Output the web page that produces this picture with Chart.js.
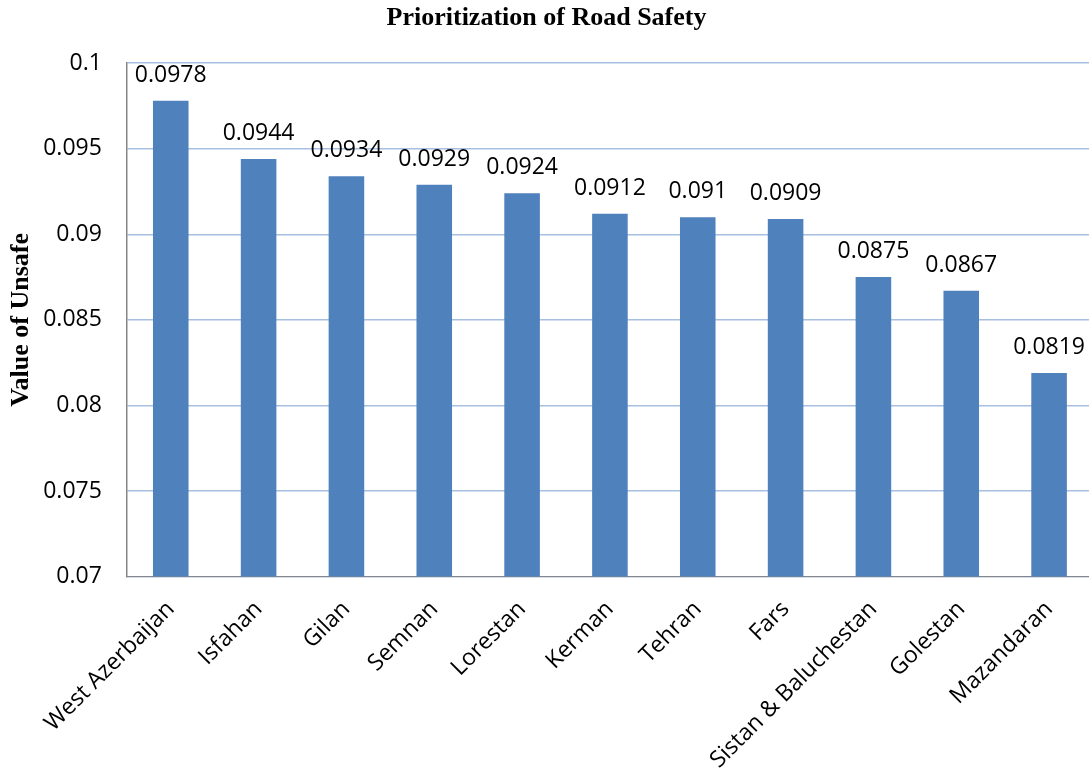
<!DOCTYPE html>
<html>
<head>
<meta charset="utf-8">
<script src="https://cdn.jsdelivr.net/npm/chart.js@4/dist/chart.umd.min.js"></script>
<style>
  html, body { margin: 0; padding: 0; background: #ffffff; overflow: hidden; }
  #wrap { width: 1093px; height: 773px; }
</style>
</head>
<body>
<div id="wrap"><canvas id="grafico"></canvas></div>
<script>
var provincias = ['West Azerbaijan', 'Isfahan', 'Gilan', 'Semnan', 'Lorestan', 'Kerman',
    'Tehran', 'Fars', 'Sistan & Baluchestan', 'Golestan', 'Mazandaran'];
var valores = [0.0978, 0.0944, 0.0934, 0.0929, 0.0924, 0.0912, 0.091, 0.0909, 0.0875, 0.0867, 0.0819];
var ejeY = [0.07, 0.075, 0.08, 0.085, 0.09, 0.095, 0.1];

var fuente = '"Open Sans", sans-serif';
var fuenteSerif = '"Liberation Serif", "Times New Roman", serif';

// etiquetas de valor encima de cada barra
var etiquetasBarras = {
    id: 'etiquetasBarras',
    afterDatasetsDraw(chart) {
        var ctx = chart.ctx;
        var meta = chart.getDatasetMeta(0);
        ctx.save();
        ctx.font = '23px ' + fuente;
        ctx.fillStyle = '#000000';
        ctx.textAlign = 'center';
        ctx.textBaseline = 'bottom';
        meta.data.forEach(function (bar, i) {
            ctx.fillText(String(valores[i]), bar.x, bar.y - 14);
        });
        ctx.restore();
    }
};

var controlBar = document.getElementById('grafico');
var graficoBar = new Chart(controlBar, {
    type: 'bar',
    data: {
        labels: provincias,
        datasets: [{
            label: 'Value of Unsafe',
            data: valores,
            backgroundColor: '#4F81BD',
            borderWidth: 0,
            barPercentage: 0.405,
            categoryPercentage: 1
        }]
    },
    plugins: [etiquetasBarras],
    options: {
        responsive: true,
        maintainAspectRatio: false,
        animation: false,
        layout: { padding: { left: 0, right: 0, top: 0, bottom: 0 } },
        plugins: {
            legend: { display: false },
            tooltip: { enabled: false },
            title: {
                display: true,
                text: 'Prioritization of Road Safety',
                color: '#000000',
                font: { family: fuenteSerif, size: 26, weight: 'bold' },
                padding: { top: 3, bottom: 29 }
            }
        },
        scales: {
            x: {
                grid: { display: false, drawTicks: false },
                border: { color: '#868686', width: 1 },
                ticks: {
                    color: '#000000',
                    font: { family: fuente, size: 23 },
                    minRotation: 45,
                    maxRotation: 45,
                    padding: 19,
                    autoSkip: false
                },
                afterFit: function (scale) {
                    scale.paddingLeft = 0;
                    scale.paddingRight = 0;
                    scale.height = scale.height - 20;
                }
            },
            y: {
                min: 0.07,
                max: 0.1,
                afterBuildTicks: function (scale) {
                    scale.ticks = ejeY.map(function (v) { return { value: v }; });
                },
                afterFit: function (scale) {
                    // el padding de las marcas se cuenta dos veces en el ancho
                    scale.width = scale.width - 25;
                },
                grid: { color: '#A7C0E2', lineWidth: 1.5, drawTicks: false },
                border: { color: '#868686', width: 1.5 },
                ticks: {
                    color: '#000000',
                    font: { family: fuente, size: 23 },
                    padding: 25,
                    callback: function (v) { return String(Math.round(v * 1000) / 1000); }
                },
                title: {
                    display: true,
                    text: 'Value of Unsafe',
                    color: '#000000',
                    font: { family: fuenteSerif, size: 26, weight: 'bold' },
                    padding: { top: 6, bottom: 6 }
                }
            }
        }
    }
});
</script>
</body>
</html>
